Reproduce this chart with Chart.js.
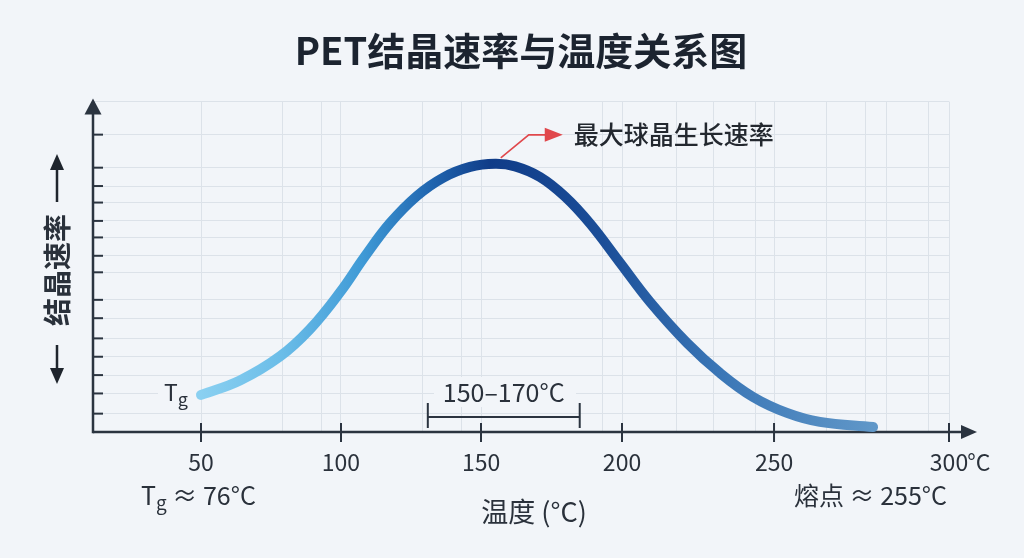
<!DOCTYPE html>
<html>
<head>
<meta charset="utf-8">
<script src="https://cdn.jsdelivr.net/npm/chart.js@4.4.0/dist/chart.umd.min.js"></script>
<style>
html,body{margin:0;padding:0;background:#f2f5f9;}
#c{display:block;}
</style>
</head>
<body>
<canvas id="c" width="1024" height="558"></canvas>
<script>
// ---- data ----
const temperatures = [50, 63.9, 78.2, 88.9, 99.6, 108.6, 117.5, 127.1, 136.4, 146.1, 155, 162.1, 170.9, 179.8, 188.7, 199.3, 209.2, 221.4, 232.2, 243.1, 253.7, 263.1, 278.3];
const rates        = [2.02, 2.81, 4.12, 5.6, 7.6, 9.58, 11.38, 12.86, 13.85, 14.44, 14.61, 14.47, 13.89, 12.82, 11.35, 9.22, 7.09, 4.85, 3.22, 1.91, 1.04, 0.55, 0.27];
const xTickLabels  = [50, 100, 150, 200, 250, 300];
const xGridValues  = [50, 79, 93, 100, 129, 143, 150, 193, 200, 218, 230, 244, 250, 265, 276, 282, 294, 300];
const yGridValues  = [0, 1, 2.1, 3.1, 4.1, 5.1, 6.2, 7.2, 8.7, 9.6, 10.6, 11.5, 12.5, 13.4, 14.4, 16.2, 18];
const peakTemp = 157;
const peakRate = 14.61;
const rangeBracket = [131, 185];
const rangeLabel = '150–170°C';
const titleText = 'PET结晶速率与温度关系图';
const yTitle = '结晶速率';
const xTitle = '温度 (°C)';
const peakLabel = '最大球晶生长速率';
const tgNote = ' ≈ 76°C';
const meltNote = '熔点 ≈ 255°C';

// ---- axis layout (the reference's x axis is drawn unevenly) ----
const xWarpValues    = [10, 50, 100, 150, 200, 250, 300];
const xWarpFractions = [0, 0.1262, 0.2897, 0.4533, 0.618, 0.7956, 1];

function interp(v, A, B) {
  let i = 0;
  if (v <= A[0]) i = 0;
  else if (v >= A[A.length - 1]) i = A.length - 2;
  else { while (i < A.length - 2 && v > A[i + 1]) i++; }
  return B[i] + (v - A[i]) * (B[i + 1] - B[i]) / (A[i + 1] - A[i]);
}

class WarpedScale extends Chart.LinearScale {
  getPixelForValue(value) {
    if (value === null || value === undefined || isNaN(value)) return NaN;
    return this.getPixelForDecimal(interp(value, xWarpValues, xWarpFractions));
  }
  getValueForPixel(pixel) {
    return interp(this.getDecimalForPixel(pixel), xWarpFractions, xWarpValues);
  }
}
WarpedScale.id = 'warped';
WarpedScale.defaults = Chart.LinearScale.defaults;
Chart.register(WarpedScale);

const FONT = "'Noto Sans CJK SC','Noto Sans',sans-serif";
const AXIS = '#2b3440';
const TEXT = '#2a313b';
const BG = '#f2f5f9';

function tri(ctx, pts) {
  ctx.beginPath();
  ctx.moveTo(pts[0][0], pts[0][1]);
  ctx.lineTo(pts[1][0], pts[1][1]);
  ctx.lineTo(pts[2][0], pts[2][1]);
  ctx.closePath();
  ctx.fill();
}

const decor = {
  id: 'decor',
  beforeDatasetsDraw(chart) {
    const { ctx, chartArea: a, scales: { x, y } } = chart;
    ctx.save();
    // text backgrounds
    ctx.fillStyle = BG;
    ctx.fillRect(158, 378, 38, 34);
    ctx.fillRect(434, 377, 142, 30);
    // axes
    ctx.strokeStyle = AXIS;
    ctx.fillStyle = AXIS;
    ctx.lineWidth = 2.5;
    ctx.lineCap = 'butt';
    ctx.beginPath();
    ctx.moveTo(a.left, a.bottom);
    ctx.lineTo(a.right + 16, a.bottom);
    ctx.stroke();
    tri(ctx, [[a.right + 28, a.bottom], [a.right + 12, a.bottom - 7], [a.right + 12, a.bottom + 7]]);
    ctx.beginPath();
    ctx.moveTo(a.left, a.bottom + 1.2);
    ctx.lineTo(a.left, a.top + 12);
    ctx.stroke();
    tri(ctx, [[a.left, a.top - 3], [a.left - 8.5, a.top + 13], [a.left + 8.5, a.top + 13]]);
    // x tick marks
    ctx.lineWidth = 2;
    xTickLabels.forEach(v => {
      const px = x.getPixelForValue(v);
      ctx.beginPath();
      ctx.moveTo(px, a.bottom - 9);
      ctx.lineTo(px, a.bottom + 10);
      ctx.stroke();
    });
    // y tick marks
    yGridValues.slice(1, -1).forEach(v => {
      const py = y.getPixelForValue(v);
      ctx.beginPath();
      ctx.moveTo(a.left, py);
      ctx.lineTo(a.left + 10, py);
      ctx.stroke();
    });
    // range bracket
    const b0 = x.getPixelForValue(rangeBracket[0]);
    const b1 = x.getPixelForValue(rangeBracket[1]);
    const by = 417;
    ctx.beginPath();
    ctx.moveTo(b0, by); ctx.lineTo(b1, by);
    ctx.moveTo(b0, by - 14); ctx.lineTo(b0, by + 11);
    ctx.moveTo(b1, by - 14); ctx.lineTo(b1, by + 11);
    ctx.stroke();
    ctx.restore();
  },
  afterDraw(chart) {
    const { ctx, chartArea: a, scales: { x, y } } = chart;
    ctx.save();
    ctx.fillStyle = TEXT;
    ctx.textBaseline = 'middle';
    // x tick labels
    ctx.font = '23px ' + FONT;
    xTickLabels.forEach((v, i) => {
      const px = x.getPixelForValue(v);
      ctx.textAlign = 'center';
      ctx.fillText(String(v), px, a.bottom + 30);
      if (i === xTickLabels.length - 1) {
        const w = ctx.measureText(String(v)).width;
        ctx.textAlign = 'left';
        ctx.fillText('°C', px + w / 2 - 1, a.bottom + 30);
      }
    });
    // range label
    ctx.textAlign = 'center';
    ctx.font = '25px ' + FONT;
    ctx.fillText(rangeLabel, (x.getPixelForValue(rangeBracket[0]) + x.getPixelForValue(rangeBracket[1])) / 2, 392);
    // Tg label near the curve
    ctx.textAlign = 'left';
    ctx.textBaseline = 'alphabetic';
    ctx.font = '23px ' + FONT;
    ctx.fillText('T', 164, 401);
    let tw = ctx.measureText('T').width;
    ctx.font = '18px ' + FONT;
    ctx.fillText('g', 164 + tw, 406);
    // Tg note under axis
    ctx.font = '25px ' + FONT;
    ctx.fillText('T', 141, 505);
    tw = ctx.measureText('T').width;
    ctx.font = '19px ' + FONT;
    ctx.fillText('g', 141 + tw, 510);
    const gw = ctx.measureText('g').width;
    ctx.font = '25px ' + FONT;
    ctx.fillText(tgNote, 141 + tw + gw, 505);
    // melting note
    ctx.textAlign = 'right';
    ctx.fillText(meltNote, 947, 505);
    // x title
    ctx.textAlign = 'center';
    ctx.textBaseline = 'middle';
    ctx.font = '27px ' + FONT;
    ctx.fillText(xTitle, 534, 512);
    // y title, rotated
    ctx.save();
    ctx.translate(57, 270);
    ctx.rotate(-Math.PI / 2);
    ctx.textBaseline = 'middle';
    ctx.textAlign = 'center';
    ctx.font = '600 28px ' + FONT;
    ctx.fillText(yTitle, 0, 0);
    ctx.strokeStyle = '#1f252d';
    ctx.fillStyle = '#1f252d';
    ctx.lineWidth = 2.5;
    ctx.beginPath();
    ctx.moveTo(68, 0); ctx.lineTo(102, 0);
    ctx.moveTo(-75, 0); ctx.lineTo(-100, 0);
    ctx.stroke();
    tri(ctx, [[116, 0], [100, -7], [100, 7]]);
    tri(ctx, [[-114, 0], [-98, -7], [-98, 7]]);
    ctx.restore();
    // peak annotation
    const px = x.getPixelForValue(peakTemp);
    const py = y.getPixelForValue(peakRate) - 6;
    ctx.strokeStyle = '#e0484c';
    ctx.fillStyle = '#e0484c';
    ctx.lineWidth = 1.6;
    ctx.beginPath();
    ctx.moveTo(px, py);
    ctx.lineTo(px + 28, py - 23);
    ctx.lineTo(px + 46, py - 23);
    ctx.stroke();
    tri(ctx, [[px + 62, py - 23], [px + 44, py - 30], [px + 44, py - 16]]);
    ctx.fillStyle = '#23282f';
    ctx.textAlign = 'left';
    ctx.textBaseline = 'middle';
    ctx.font = '500 25px ' + FONT;
    ctx.fillText(peakLabel, px + 73, py - 23);
    ctx.restore();
  }
};

const points = temperatures.map((t, i) => ({ x: t, y: rates[i] }));

new Chart(document.getElementById('c'), {
  type: 'line',
  data: {
    datasets: [{
      data: points,
      borderWidth: 10,
      borderCapStyle: 'round',
      borderJoinStyle: 'round',
      pointRadius: 0,
      pointHoverRadius: 0,
      fill: false,
      tension: 0.4,
      clip: false,
      borderColor: (c) => {
        const ch = c.chart;
        if (!ch.chartArea) return '#2a6db5';
        const xs = ch.scales.x;
        const g = ch.ctx.createLinearGradient(
          xs.getPixelForValue(temperatures[0]), 0,
          xs.getPixelForValue(temperatures[temperatures.length - 1]), 0);
        g.addColorStop(0, '#8ad0f1');
        g.addColorStop(0.12, '#6bbde8');
        g.addColorStop(0.24, '#3f9ad6');
        g.addColorStop(0.34, '#2066b0');
        g.addColorStop(0.43, '#103c88');
        g.addColorStop(0.6, '#1b4e98');
        g.addColorStop(0.77, '#3a76b6');
        g.addColorStop(1, '#6097c8');
        return g;
      }
    }]
  },
  options: {
    responsive: false,
    animation: false,
    events: [],
    layout: { padding: { left: 93, right: 75, top: 0, bottom: 126 } },
    plugins: {
      legend: { display: false },
      tooltip: { enabled: false },
      title: {
        display: true,
        text: titleText,
        color: '#1c2430',
        font: { family: FONT, size: 38, weight: 'bold' },
        padding: { top: 28, bottom: 28 }
      }
    },
    scales: {
      x: {
        type: 'warped',
        min: 10,
        max: 300,
        afterBuildTicks: (s) => { s.ticks = xGridValues.map(v => ({ value: v })); },
        ticks: { display: false },
        grid: { color: '#dce2e9', lineWidth: 1, drawTicks: false },
        border: { display: false }
      },
      y: {
        type: 'linear',
        min: 0,
        max: 18,
        afterBuildTicks: (s) => { s.ticks = yGridValues.map(v => ({ value: v })); },
        ticks: { display: false },
        grid: { color: '#dce2e9', lineWidth: 1, drawTicks: false },
        border: { display: false }
      }
    }
  },
  plugins: [decor]
});
</script>
</body>
</html>
